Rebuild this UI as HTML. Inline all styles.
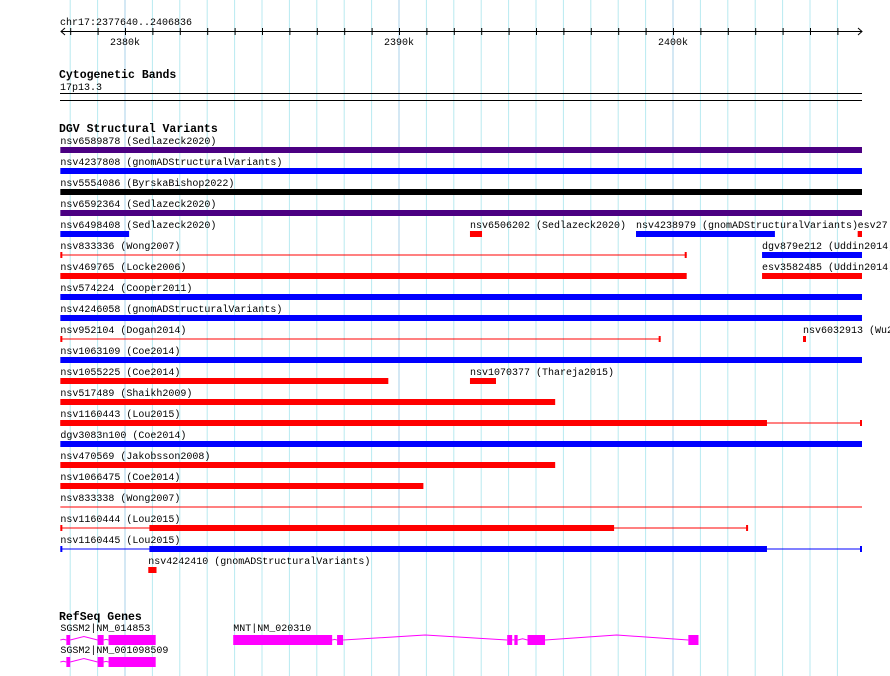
<!DOCTYPE html>
<html><head><meta charset="utf-8"><style>
html,body{margin:0;padding:0;background:#fff}
svg{display:block}
text{font-family:"Liberation Mono","DejaVu Sans Mono",monospace;font-size:10px;fill:#000}
.t{font-weight:bold;font-size:11.5px}
</style></head><body>
<svg id="c" width="890" height="676" xmlns="http://www.w3.org/2000/svg"></svg>
<script>
const viewStart = 2377640, viewEnd = 2406836;
const majorTicks = [2380000, 2390000, 2400000];
const majorLabels = ["2380k", "2390k", "2400k"];
const rowNames = [
 ["nsv6589878 (Sedlazeck2020)"],["nsv4237808 (gnomADStructuralVariants)"],["nsv5554086 (ByrskaBishop2022)"],
 ["nsv6592364 (Sedlazeck2020)"],["nsv6498408 (Sedlazeck2020)","nsv6506202 (Sedlazeck2020)","nsv4238979 (gnomADStructuralVariants)","esv27"],
 ["nsv833336 (Wong2007)","dgv879e212 (Uddin2014)"],["nsv469765 (Locke2006)","esv3582485 (Uddin2014)"],
 ["nsv574224 (Cooper2011)"],["nsv4246058 (gnomADStructuralVariants)"],["nsv952104 (Dogan2014)","nsv6032913 (Wu2"],
 ["nsv1063109 (Coe2014)"],["nsv1055225 (Coe2014)","nsv1070377 (Thareja2015)"],["nsv517489 (Shaikh2009)"],
 ["nsv1160443 (Lou2015)"],["dgv3083n100 (Coe2014)"],["nsv470569 (Jakobsson2008)"],["nsv1066475 (Coe2014)"],
 ["nsv833338 (Wong2007)"],["nsv1160444 (Lou2015)"],["nsv1160445 (Lou2015)"],["nsv4242410 (gnomADStructuralVariants)"]
];
const rowStarts = [
 [2377640],[2377640],[2377640],[2377640],[2377640,2392590,2398650,2406740],
 [2377640,2403250],[2377640,2403250],[2377640],[2377640],[2377640,2404745],
 [2377640],[2377640,2392590],[2377640],[2377640],[2377640],[2377640],[2377640],
 [2377640],[2377640],[2377640],[2380850]
];
const rowEnds = [
 [2406900],[2406900],[2406900],[2406900],[2380150,2393030,2403720,2406900],
 [2400500,2406900],[2400500,2406900],[2406900],[2406900],[2399550,2404854],
 [2406900],[2389610,2393540],[2395700],[2406900],[2406900],[2395700],[2390890],
 [2406900],[2402740],[2406900],[2381150]
];
const rowColors = [
 ["#4b0082"],["#0000ff"],["#000000"],["#4b0082"],["#0000ff","#ff0000","#0000ff","#ff0000"],
 ["#ff0000","#0000ff"],["#ff0000","#ff0000"],["#0000ff"],["#0000ff"],["#ff0000","#ff0000"],
 ["#0000ff"],["#ff0000","#ff0000"],["#ff0000"],["#ff0000"],["#0000ff"],["#ff0000"],["#ff0000"],
 ["#ff0000"],["#ff0000"],["#0000ff"],["#ff0000"]
];
const rowThick = [
 [null],[null],[null],[null],[null,null,null,null],
 ["thin",null],[null,null],[null],[null],["thin",null],
 [null],[null,null],[null],[[2377640,2403430]],[null],[null],[null],
 ["thinNoTick"],[[2380890,2397850]],[[2380890,2403430]],[null]
];
const geneNames = ["SGSM2|NM_014853","MNT|NM_020310","SGSM2|NM_001098509"];
const geneRow = [0,0,1];
const geneSpan = [[2377640,2381120],[2383950,2400930],[2377640,2381120]];
const geneExons = [
 [[2377860,2378000],[2379000,2379220],[2379400,2381120]],
 [[2383950,2387560],[2387740,2387960],[2393950,2394130],[2394210,2394330],[2394690,2395330],[2400560,2400930]],
 [[2377860,2378000],[2379000,2379220],[2379400,2381120]]
];

const NS="http://www.w3.org/2000/svg";
const svg=document.getElementById('c');
const X=p=>125+(p-2380000)*0.0274;
function mk(tag,at,parent){const e=document.createElementNS(NS,tag);for(const k in at)e.setAttribute(k,at[k]);(parent||svg).appendChild(e);return e;}
function txt(s,x,y,cls){const e=mk('text',{x:x,y:y});if(cls)e.setAttribute('class',cls);e.textContent=s;return e;}

for(let k=2378;k<=2406;k++){
  const l=mk('line',{x1:X(k*1000),x2:X(k*1000),y1:0,y2:676,stroke:(k%10==0)?'#a8d0e8':'#b8eaf0','stroke-width':1});
  
  
}
let e=txt("chr17:2377640..2406836",60,25);

e=mk('line',{x1:61,x2:862,y1:31.5,y2:31.5,stroke:'#000'});

mk('path',{d:'M65,28 L61,31.5 L65,35',fill:'none',stroke:'#000'});
mk('path',{d:'M858,28 L862,31.5 L858,35',fill:'none',stroke:'#000'});
for(let k=2378;k<=2406;k++){
  const t=mk('line',{x1:X(k*1000)+.5,x2:X(k*1000)+.5,y1:28,y2:35,stroke:'#000'});
  
  
}
majorTicks.forEach((p,i)=>{const t=txt(majorLabels[i],X(p)-15,45);
  
  });

e=txt("Cytogenetic Bands",59,78,'t');
e=txt("17p13.3",60,90);
mk('rect',{x:60,y:93,width:802,height:1,fill:'#000'});
mk('rect',{x:60,y:100,width:802,height:1,fill:'#000'});

e=txt("DGV Structural Variants",59,132,'t');
rowNames.forEach((names,r)=>{
  const by=147+21*r;
  names.forEach((nm,j)=>{
    const s=rowStarts[r][j],en=rowEnds[r][j],c=rowColors[r][j],th=rowThick[r][j];
    const x1=Math.max(60,X(s)),x2=Math.min(862,X(en));
    const g=mk('g',{});
    
    
    const lt=txt(nm,x1,by-3);g.appendChild(lt);
    if(th===null){mk('rect',{x:x1,y:by,width:Math.max(2,x2-x1),height:6,fill:c},g);}
    else{
      mk('rect',{x:x1,y:by+2.5,width:x2-x1,height:1,fill:c},g);
      if(th!=="thinNoTick"){mk('rect',{x:x1,y:by,width:2,height:6,fill:c},g);mk('rect',{x:x2-2,y:by,width:2,height:6,fill:c},g);}
      if(Array.isArray(th)){const a=Math.max(60,X(th[0])),b=X(th[1]);mk('rect',{x:a,y:by,width:b-a,height:6,fill:c},g);}
    }
  });
});

e=txt("RefSeq Genes",59,620,'t');
geneNames.forEach((nm,i)=>{
  const y=635+22*geneRow[i];
  const g=mk('g',{});
  
  
  g.appendChild(txt(nm,X(geneSpan[i][0]),y-4));
  const ex=geneExons[i];
  let prev=X(geneSpan[i][0]);
  ex.forEach(([a,b])=>{
    const xa=X(a),xb=X(b);
    if(xa>prev+1){const m=(prev+xa)/2,h=Math.min(5,(xa-prev)/8);
      mk('path',{d:`M${prev},${y+5} L${m},${y+5-h} L${xa},${y+5}`,fill:'none',stroke:'#ff00ff','stroke-width':1},g);}
    mk('rect',{x:xa,y:y,width:Math.max(2,xb-xa),height:10,fill:'#ff00ff'},g);
    prev=xb;
  });
});
</script>
</body></html>
